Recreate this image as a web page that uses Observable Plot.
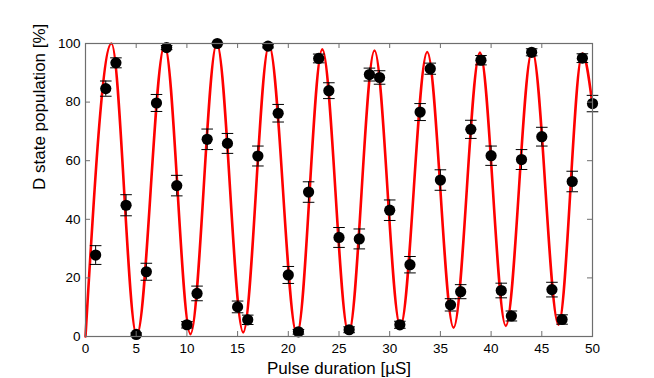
<!DOCTYPE html>
<html>
<head>
<meta charset="utf-8">
<script src="https://cdn.jsdelivr.net/npm/d3@7"></script>
<script src="https://cdn.jsdelivr.net/npm/@observablehq/plot@0.6"></script>
<style>
  html, body { margin: 0; padding: 0; background: #fff; }
  #chart svg { display: block; }
</style>
</head>
<body>
<div id="chart"></div>
<script>
// Measured points: pulse duration (µs), D state population (%), error (%)
const pulseDuration = [1,2,3,4,5,6,7,8,9,10,11,12,13,14,15,16,17,18,19,20,21,22,23,24,25,26,27,28,29,30,31,32,33,34,35,36,37,38,39,40,41,42,43,44,45,46,47,48,49,50];
const population = [27.8,84.6,93.4,44.8,0.7,22.1,79.7,98.6,51.5,4.0,
                    14.7,67.3,100,65.9,10.1,5.7,61.6,99.1,76.2,21.0,
                    1.6,49.3,94.9,83.9,33.8,2.3,33.3,89.4,88.4,43.1,
                    4.0,24.5,76.6,91.4,53.4,10.8,15.3,70.7,94.3,61.7,
                    15.7,7.0,60.4,97.0,68.2,16.0,5.8,52.9,95.0,79.5];
const popError = [3.2,2.6,1.7,3.6,0.5,2.9,2.9,0.7,3.5,1.1,
                  2.5,3.5,0.2,3.4,2.0,1.6,3.4,0.6,3.0,2.9,
                  0.8,3.5,1.5,2.7,3.4,1.0,3.4,2.2,2.3,3.5,
                  1.2,2.8,2.9,1.9,3.5,2.1,2.4,3.1,1.6,3.3,
                  2.5,1.7,3.4,1.2,3.2,2.5,1.6,3.5,1.5,2.8];

const fitX = [0,2.56,5.05,7.8,10.35,12.95,15.55,18.1,20.85,23.35,25.95,28.5,31.05,33.7,36.3,38.9,41.45,44.05,46.65,49.0,50];
const fitY = [0,100,0.2,99.5,0.8,100,1.4,99.4,0.6,98.0,1.0,97.6,3.4,97.1,3.0,96.9,3.6,97.6,4.0,96.6,79.0];

const xTicks = [0,5,10,15,20,25,30,35,40,45,50];
const yTicks = [0,20,40,60,80,100];
const xLabel = "Pulse duration [µS]";
const yLabel = "D state population [%]";

const points = pulseDuration.map((x, i) => ({x, y: population[i], e: popError[i]}));
const fit = fitX.map((x, i) => ({x, y: fitY[i]}));

const W = 654, H = 378;
const mL = 85, mR = 62, mT = 43, mB = 42;
const plotW = W - mL - mR, plotH = H - mT - mB;
const frameColor = "#6e6e6e";

const capSymbol = {
  draw(ctx, size) {
    const w = Math.sqrt(size / Math.PI);
    ctx.moveTo(-w, 0);
    ctx.lineTo(w, 0);
  }
};

const chart = Plot.plot({
  width: W,
  height: H,
  marginLeft: mL,
  marginRight: mR,
  marginTop: mT,
  marginBottom: mB,
  style: {fontFamily: "'Liberation Sans', Arial, sans-serif", background: "#fff", color: "#000"},
  x: {domain: [0, 50]},
  y: {domain: [0, 100]},
  marks: [
    Plot.axisX(xTicks, {tickSize: 0, tickPadding: 7, fontSize: 13.5, label: null, fill: "#000"}),
    Plot.axisY(yTicks, {tickSize: 0, tickPadding: 5, fontSize: 13.5, label: null, fill: "#000"}),
    Plot.line(fit, {x: "x", y: "y", curve: "monotone-x", stroke: "#ff0000", strokeWidth: 2.6}),
    Plot.ruleX(points, {x: "x", y1: d => d.y - d.e, y2: d => d.y + d.e, stroke: "#000", strokeWidth: 1}),
    Plot.dot(points, {x: "x", y: d => d.y + d.e, symbol: capSymbol, r: 5.8, stroke: "#000", fill: "none", strokeWidth: 1}),
    Plot.dot(points, {x: "x", y: d => d.y - d.e, symbol: capSymbol, r: 5.8, stroke: "#000", fill: "none", strokeWidth: 1}),
    Plot.dot(points, {x: "x", y: "y", r: 5.6, fill: "#000", stroke: "none"}),
    Plot.tickX(xTicks, {x: d => d, insetTop: plotH - 5, stroke: frameColor}),
    Plot.tickX(xTicks, {x: d => d, insetBottom: plotH - 5, stroke: frameColor}),
    Plot.tickY(yTicks, {y: d => d, insetRight: plotW - 5, stroke: frameColor}),
    Plot.tickY(yTicks, {y: d => d, insetLeft: plotW - 5, stroke: frameColor}),
    Plot.frame({stroke: frameColor, strokeWidth: 1.2}),
    Plot.text([xLabel], {text: d => d, frameAnchor: "bottom", dy: 32, fontSize: 17, fill: "#000", lineAnchor: "middle"}),
    Plot.text([yLabel], {text: d => d, frameAnchor: "left", dx: -46, rotate: -90, fontSize: 17, fill: "#000", lineAnchor: "middle"})
  ]
});
document.getElementById("chart").appendChild(chart);
</script>
</body>
</html>
